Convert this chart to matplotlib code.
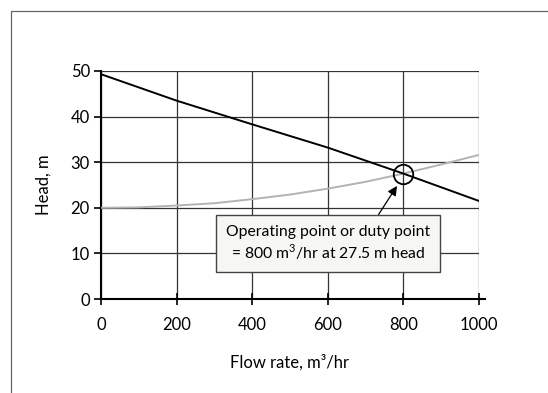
import matplotlib.pyplot as plt
from matplotlib.patches import Rectangle

# pump curve and system curve
pump_flow = [0, 200, 400, 600, 800, 1000]
pump_head = [49.3, 43.5, 38.3, 33.2, 27.5, 21.5]

system_flow = [0, 100, 200, 300, 400, 500, 600, 700, 800, 900, 1000]
system_head = [20.0, 20.1, 20.5, 21.0, 21.9, 22.9, 24.2, 25.7, 27.5, 29.5, 31.6]

duty_flow, duty_head = 800, 27.5

x_ticks = [0, 200, 400, 600, 800, 1000]
y_ticks = [0, 10, 20, 30, 40, 50]

plt.rcParams["font.family"] = ["Lato", "DejaVu Sans"]

fig = plt.figure(figsize=(5.48, 3.93), dpi=100)
ax = fig.add_axes([101 / 548, 1 - 299 / 393, 378 / 548, 228 / 393])

# outer frame (partly cut off in the original)
fig.patches.append(Rectangle((11 / 548, -0.1), 1.2, 1 - 11 / 393 + 0.1, transform=fig.transFigure,
                             fill=False, edgecolor="#666666", linewidth=0.9))

ax.plot(system_flow, system_head, color="#b3b3b3", linewidth=1.4, zorder=3)
ax.plot(pump_flow, pump_head, color="black", linewidth=1.4, zorder=4)
ax.plot([duty_flow], [duty_head], marker="o", markersize=14, markerfacecolor="none",
        markeredgecolor="black", markeredgewidth=1.3, zorder=5)

ax.set_xlim(0, 1000)
ax.set_ylim(0, 50)
ax.set_xticks(x_ticks)
ax.set_yticks(y_ticks)
ax.grid(True, color="#333333", linewidth=0.9)
ax.set_axisbelow(True)
for side in ["top", "right"]:
    ax.spines[side].set_visible(False)
ax.spines["left"].set_linewidth(1.5)
ax.spines["bottom"].set_linewidth(1.5)
ax.spines["bottom"].set_bounds(0, 1015)
ax.tick_params(axis="x", direction="inout", length=8, width=1.2, labelsize=12, pad=9)
ax.tick_params(axis="y", direction="out", length=5, width=1.2, labelsize=12, pad=3)

ax.set_xlabel("Flow rate, m³/hr", fontsize=12, labelpad=15)
ax.set_ylabel("Head, m", fontsize=12, labelpad=14)

ax.annotate("Operating point or duty point\n= 800 m$^{\\mathregular{3}}$/hr at 27.5 m head",
            xy=(783, 24.8), xytext=(600, 12.2), fontsize=11.3, ha="center", va="center",
            linespacing=1.2,
            bbox=dict(boxstyle="square,pad=0.65", facecolor="#f6f6f4", edgecolor="#444444", linewidth=1),
            arrowprops=dict(arrowstyle="-|>", color="black", lw=0.9, mutation_scale=14,
                            shrinkA=0, shrinkB=0, relpos=(0.716, 1.0)),
            zorder=6)

fig.savefig("out.png", dpi=100)
